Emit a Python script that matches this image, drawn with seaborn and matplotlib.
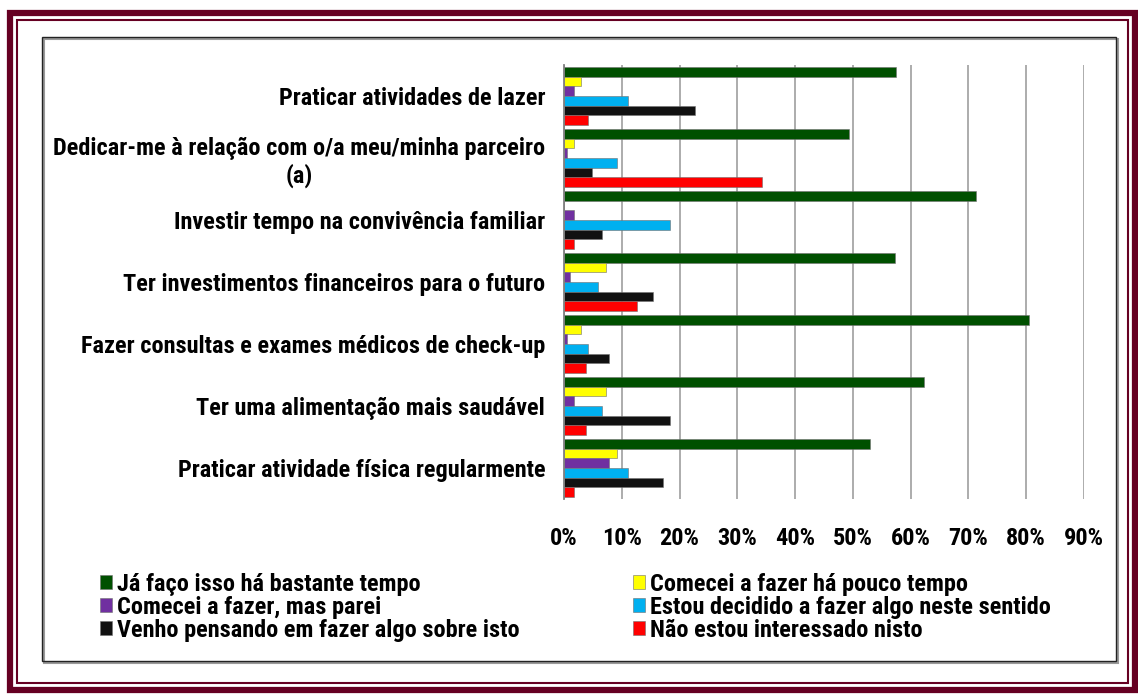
import seaborn as sns
import matplotlib.pyplot as plt
import pandas as pd
import numpy as np
from matplotlib.patches import Rectangle
from matplotlib import font_manager

categories = [
    "Praticar atividades de lazer",
    "Dedicar-me à relação com o/a meu/minha parceiro\n(a)",
    "Investir tempo na convivência familiar",
    "Ter investimentos financeiros para o futuro",
    "Fazer consultas e exames médicos de check-up",
    "Ter uma alimentação mais saudável",
    "Praticar atividade física regularmente",
]

series = [
    "Já faço isso há bastante tempo",
    "Comecei a fazer há pouco tempo",
    "Comecei a fazer, mas parei",
    "Estou decidido a fazer algo neste sentido",
    "Venho pensando em fazer algo sobre isto",
    "Não estou interessado nisto",
]

ja_faco = [57.5, 49.4, 71.3, 57.3, 80.4, 62.3, 53.0]
comecei_pouco = [2.9, 1.8, 0.0, 7.3, 2.9, 7.3, 9.2]
comecei_parei = [1.8, 0.6, 1.8, 1.0, 0.6, 1.8, 7.8]
decidido = [11.0, 9.2, 18.3, 5.9, 4.2, 6.6, 11.0]
pensando = [22.6, 4.9, 6.6, 15.4, 7.8, 18.3, 17.2]
nao_interessado = [4.2, 34.2, 1.8, 12.7, 3.8, 3.8, 1.8]

colors = ["#005000", "#ffff00", "#7030a0", "#00b0f0", "#111111", "#ff0000"]

values = [ja_faco, comecei_pouco, comecei_parei, decidido, pensando, nao_interessado]
rows = []
for s, vals in zip(series, values):
    for c, v in zip(categories, vals):
        rows.append({"categoria": c, "serie": s, "valor": v})
df = pd.DataFrame(rows)

# fonte estreita se houver, senão Liberation Sans
installed = {f.name for f in font_manager.fontManager.ttflist}
wanted = ['Liberation Sans Narrow', 'Arial Narrow', 'Roboto Condensed', 'Liberation Sans', 'DejaVu Sans']
fams = [f for f in wanted if f in installed] or ['DejaVu Sans']
narrow = fams[0] in ('Liberation Sans Narrow', 'Arial Narrow', 'Roboto Condensed')
fs = 17.5 if narrow else 14.6

sns.set_style("white")
plt.rcParams['font.family'] = fams
plt.rcParams['font.weight'] = 'bold'
plt.rcParams['text.color'] = 'black'
plt.rcParams['xtick.color'] = 'black'
plt.rcParams['ytick.color'] = 'black'

fig = plt.figure(figsize=(11.38, 6.94), dpi=100)
ax = fig.add_axes([564 / 1138, 1 - 499 / 694, 520 / 1138, 434 / 694])

sns.barplot(data=df, y="categoria", x="valor", hue="serie", orient="h",
            order=categories, hue_order=series, palette=colors, saturation=1,
            width=0.93, gap=0, edgecolor=(0.45, 0.45, 0.45, 0.6), linewidth=0.7,
            ax=ax)

ax.set_xlim(0, 90)
ax.set_xticks(np.arange(0, 91, 10))
ax.set_xticklabels([f"{t}%" for t in range(0, 91, 10)], fontsize=fs, fontweight='bold')
ax.tick_params(axis='x', length=0, pad=20)
ax.tick_params(axis='y', length=0, pad=13.5)
for lab in ax.get_yticklabels():
    lab.set_fontsize(fs)
    lab.set_fontweight('bold')
    lab.set_multialignment('center')
ax.set_xlabel("")
ax.set_ylabel("")
ax.set_axisbelow(True)
ax.xaxis.grid(True, color="#a6a6a6", linewidth=1.3)
for s in ["top", "right", "bottom"]:
    ax.spines[s].set_visible(False)
ax.spines["left"].set_color("#808080")
ax.spines["left"].set_linewidth(1.3)

handles, labels = ax.get_legend_handles_labels()
ax.get_legend().remove()
order = [0, 2, 4, 1, 3, 5]
fig.legend([handles[i] for i in order], [labels[i] for i in order],
           ncol=2, loc="upper left", bbox_to_anchor=(100 / 1138, 1 - 573 / 694),
           frameon=False, fontsize=fs, handlelength=0.48, handleheight=0.5,
           handletextpad=0.2, labelspacing=0.0, columnspacing=4.7,
           borderaxespad=0, borderpad=0)

# moldura
W, H = 1138, 694
def frect(x0, y0, x1, y1, **kw):
    fig.add_artist(Rectangle((x0 / W, 1 - y1 / H), (x1 - x0) / W, (y1 - y0) / H,
                             transform=fig.transFigure, fill=False, **kw))

frect(10, 13, 1135, 690, edgecolor="#660022", linewidth=4.5)
frect(17, 20, 1128, 683, edgecolor="#660022", linewidth=1.5)
frect(44, 39, 1118, 663, edgecolor="#999999", linewidth=1.5)
frect(42, 37, 1116, 661, edgecolor="#222222", linewidth=1.0)

plt.savefig("out.png", dpi=100)
plt.close()
